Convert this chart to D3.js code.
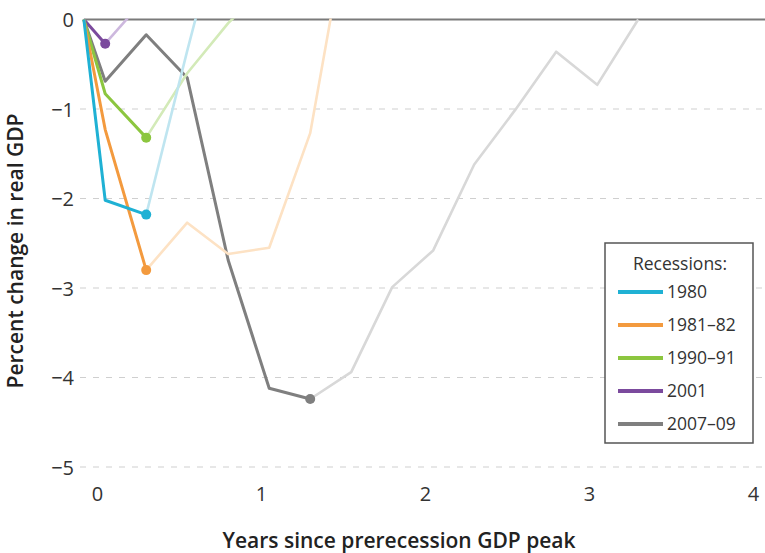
<!DOCTYPE html>
<html>
<head>
<meta charset="utf-8">
<script src="https://cdn.jsdelivr.net/npm/d3@7"></script>
<style>
  html, body { margin: 0; padding: 0; background: #fff; }
  svg { display: block; font-family: "Open Sans", "Noto Sans", sans-serif; }
</style>
</head>
<body>
<svg id="chart" width="765" height="553"></svg>
<script>
// ---- data (years since prerecession GDP peak, percent change in real GDP) ----
const recessions = ["1980", "1981–82", "1990–91", "2001", "2007–09"];
const darkColors  = ["#1fb1d4", "#f39a3e", "#8cc63f", "#7b4a9d", "#7f7f7f"];
const lightColors = ["#bfe5f0", "#fde2c4", "#d3eab8", "#cdb8de", "#d8d8d8"];

// peak-to-trough (dark) and recovery (light) paths
const yr1980Down = [-0.08, 0.05, 0.30];
const v1980Down  = [0, -2.02, -2.18];
const yr1980Up   = [0.30, 0.55, 0.80];
const v1980Up    = [-2.18, -0.35, 1.4];

const yr1981Down = [-0.08, 0.05, 0.30];
const v1981Down  = [0, -1.23, -2.80];
const yr1981Up   = [0.30, 0.55, 0.80, 1.05, 1.30, 1.55];
const v1981Up    = [-2.80, -2.27, -2.62, -2.55, -1.27, 1.3];

const yr1990Down = [-0.08, 0.05, 0.30];
const v1990Down  = [0, -0.83, -1.32];
const yr1990Up   = [0.30, 0.55, 0.80, 1.05];
const v1990Up    = [-1.32, -0.60, -0.04, 0.4];

const yr2001Down = [-0.08, 0.05];
const v2001Down  = [0, -0.27];
const yr2001Up   = [0.05, 0.30];
const v2001Up    = [-0.27, 0.25];

const yr2007Down = [-0.08, 0.05, 0.30, 0.55, 0.80, 1.05, 1.30];
const v2007Down  = [0, -0.69, -0.17, -0.65, -2.69, -4.12, -4.24];
const yr2007Up   = [1.30, 1.55, 1.80, 2.05, 2.30, 2.55, 2.80, 3.05, 3.30];
const v2007Up    = [-4.24, -3.94, -2.99, -2.58, -1.62, -1.01, -0.36, -0.73, 0];

const xTicks = [0, 1, 2, 3, 4];
const yTicks = [0, -1, -2, -3, -4, -5];

const series = [
  { name: recessions[4], dx: yr2007Down, dy: v2007Down, ux: yr2007Up, uy: v2007Up, c: darkColors[4], lc: lightColors[4] },
  { name: recessions[3], dx: yr2001Down, dy: v2001Down, ux: yr2001Up, uy: v2001Up, c: darkColors[3], lc: lightColors[3] },
  { name: recessions[2], dx: yr1990Down, dy: v1990Down, ux: yr1990Up, uy: v1990Up, c: darkColors[2], lc: lightColors[2] },
  { name: recessions[1], dx: yr1981Down, dy: v1981Down, ux: yr1981Up, uy: v1981Up, c: darkColors[1], lc: lightColors[1] },
  { name: recessions[0], dx: yr1980Down, dy: v1980Down, ux: yr1980Up, uy: v1980Up, c: darkColors[0], lc: lightColors[0] }
];

// ---- scales ----
const x = d3.scaleLinear().domain([0, 4]).range([97, 753]);
const y = d3.scaleLinear().domain([0, -5]).range([19.5, 467]);

const svg = d3.select("#chart");

// clip so recovery lines stop at the zero line
svg.append("defs").append("clipPath").attr("id", "clip")
  .append("rect").attr("x", 0).attr("y", y(0) - 1).attr("width", 765).attr("height", 553);

// gridlines (dashed) for negative ticks
svg.append("g").selectAll("line")
  .data(yTicks.filter(d => d < 0))
  .join("line")
  .attr("x1", 80).attr("x2", 765)
  .attr("y1", d => y(d)).attr("y2", d => y(d))
  .attr("stroke", "#cfcfcf").attr("stroke-width", 1.2)
  .attr("stroke-dasharray", "6,7");

// y axis labels
const yAxis = d3.axisLeft(y).tickValues(yTicks)
  .tickFormat(d => d === 0 ? "0" : "\u2212" + Math.abs(d))
  .tickSize(0).tickPadding(0);
const gy = svg.append("g").attr("transform", "translate(74,0)").call(yAxis);
gy.select(".domain").remove();
gy.selectAll("text").attr("font-size", 20).attr("fill", "#333")
  .attr("font-family", "'Open Sans', sans-serif").attr("dy", "0.35em");

// x axis labels
const xAxis = d3.axisBottom(x).tickValues(xTicks).tickFormat(d3.format("d"))
  .tickSize(0).tickPadding(0);
const gx = svg.append("g").attr("transform", "translate(0,486)").call(xAxis);
gx.select(".domain").remove();
gx.selectAll("text").attr("font-size", 20).attr("fill", "#333")
  .attr("font-family", "'Open Sans', sans-serif").attr("dy", "0.75em");

// zero line
svg.append("line")
  .attr("x1", x(-0.08)).attr("x2", 765)
  .attr("y1", y(0)).attr("y2", y(0))
  .attr("stroke", "#7a7a7a").attr("stroke-width", 2);

const line = d3.line().x(d => x(d[0])).y(d => y(d[1]));
const plot = svg.append("g").attr("clip-path", "url(#clip)");

series.forEach(s => {
  const up = s.ux.map((t, i) => [t, s.uy[i]]);
  const down = s.dx.map((t, i) => [t, s.dy[i]]);
  plot.append("path").datum(up).attr("d", line)
    .attr("fill", "none").attr("stroke", s.lc).attr("stroke-width", 2.6)
    .attr("stroke-linejoin", "round");
  plot.append("path").datum(down).attr("d", line)
    .attr("fill", "none").attr("stroke", s.c).attr("stroke-width", 3)
    .attr("stroke-linejoin", "round");
  const last = down[down.length - 1];
  plot.append("circle").attr("cx", x(last[0])).attr("cy", y(last[1]))
    .attr("r", 5).attr("fill", s.c);
});

// axis titles
svg.append("text")
  .attr("x", 399).attr("y", 548)
  .attr("text-anchor", "middle")
  .attr("font-size", 21).attr("font-weight", 600).attr("fill", "#222")
  .text("Years since prerecession GDP peak");

svg.append("text")
  .attr("transform", "translate(23,251) rotate(-90)")
  .attr("text-anchor", "middle")
  .attr("font-size", 21).attr("font-weight", 600).attr("fill", "#222")
  .text("Percent change in real GDP");

// legend
const lg = svg.append("g");
lg.append("rect").attr("x", 605).attr("y", 243).attr("width", 148).attr("height", 200)
  .attr("fill", "#fff").attr("stroke", "#555").attr("stroke-width", 1.5);
lg.append("text").attr("x", 680).attr("y", 270).attr("text-anchor", "middle")
  .attr("font-size", 17.5).attr("fill", "#333").text("Recessions:");
const rowY = d3.scalePoint().domain(recessions).range([292, 424]);
recessions.forEach((r, i) => {
  const yy = rowY(r);
  lg.append("line").attr("x1", 618).attr("x2", 663).attr("y1", yy).attr("y2", yy)
    .attr("stroke", darkColors[i]).attr("stroke-width", 4);
  lg.append("text").attr("x", 667).attr("y", yy).attr("dy", "0.36em")
    .attr("font-size", 17.5).attr("fill", "#333").text(r);
});
</script>
</body>
</html>
